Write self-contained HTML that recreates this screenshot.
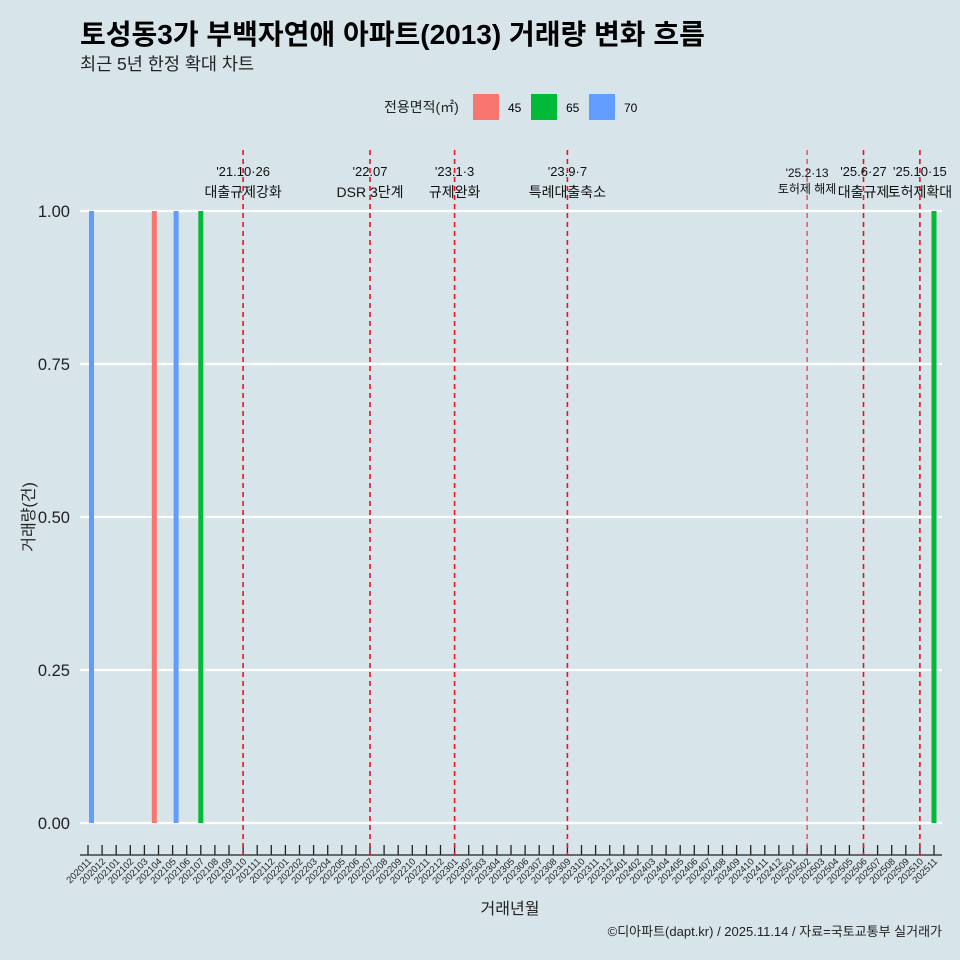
<!DOCTYPE html>
<html><head><meta charset="utf-8"><style>
body{margin:0;background:#d7e4ea;}
svg{display:block;font-family:"Liberation Sans","Noto Sans CJK KR",sans-serif;}
</style></head><body>
<svg id="chart" width="960" height="960">
<rect width="960" height="960" fill="#d7e4ea"/>
<text x="80" y="44" font-size="28" font-weight="bold" fill="#000">토성동3가 부백자연애 아파트(2013) 거래량 변화 흐름</text>
<text x="80" y="70" font-size="17.5" fill="#222">최근 5년 한정 확대 차트</text>
<g>
<text x="384" y="112" font-size="14" fill="#222">전용면적(㎡)</text>
<rect x="473" y="94" width="26" height="26" fill="#f8766d"/>
<text x="508" y="112" font-size="12">45</text>
<rect x="531" y="94" width="26" height="26" fill="#00ba38"/>
<text x="566" y="112" font-size="12">65</text>
<rect x="589" y="94" width="26" height="26" fill="#619cff"/>
<text x="624" y="112" font-size="12">70</text>
</g>
<g id="plot"></g>
<text x="510" y="914" font-size="16" text-anchor="middle" fill="#222">거래년월</text>
<text transform="translate(34,517) rotate(-90)" font-size="16" text-anchor="middle" fill="#222">거래량(건)</text>
<text x="942" y="936" font-size="13" text-anchor="end" fill="#222">©디아파트(dapt.kr) / 2025.11.14 / 자료=국토교통부 실거래가</text>
</svg>
<script>
const months = [];
for (let y = 2020, m = 11; months.length < 61; ) { months.push(y + String(m).padStart(2,'0')); m++; if (m > 12) { m = 1; y++; } }
const groups = ["45","65","70"];
const groupColors = {"45":"#f8766d","65":"#00ba38","70":"#619cff"};
const tradeMonths = ["202011","202104","202105","202107","202511"];
const tradeGroups = ["70","45","70","65","65"];
const tradeCounts = [1,1,1,1,1];
const yTicks = [0,0.25,0.5,0.75,1];
const yTickLabels = ["0.00","0.25","0.50","0.75","1.00"];
const eventMonths = ["202110","202207","202301","202309","202502","202506","202510"];
const eventDates = ["'21.10·26","'22.07","'23.1·3","'23.9·7","'25.2·13","'25.6·27","'25.10·15"];
const eventTexts = ["대출규제강화","DSR 3단계","규제완화","특례대출축소","토허제 해제","대출규제","토허제확대"];

const NS = "http://www.w3.org/2000/svg";
const plot = document.getElementById('plot');
function mk(tag, attrs, parent) { const e = document.createElementNS(NS, tag); for (const k in attrs) e.setAttribute(k, attrs[k]); (parent||plot).appendChild(e); return e; }
const x = i => 88 + i * 14.1;
const y = v => 823 - v * 612;
const dodge = {"45":-4.2,"65":0,"70":3.5};

yTicks.forEach((t, i) => {
  const g = mk('line', {x1:80, x2:942, y1:y(t), y2:y(t), stroke:'#fff', 'stroke-width':2.2});
  
  
  const l = mk('text', {x:70, y:y(t)+6, 'font-size':16.5, 'text-anchor':'end', fill:'#222'});
  l.textContent = yTickLabels[i];
  
  
});
mk('line', {x1:80, x2:942, y1:855, y2:855, stroke:'#222', 'stroke-width':1.3});
months.forEach((m, i) => {
  const t = mk('line', {x1:x(i), x2:x(i), y1:845, y2:855, stroke:'#222', 'stroke-width':1.3});
  
  
  const l = mk('text', {transform:`translate(${x(i)+4},862) rotate(-45)`, 'font-size':9.5, 'text-anchor':'end', fill:'#222'});
  l.textContent = m;
  
  
});
tradeMonths.forEach((m, k) => {
  const i = months.indexOf(m);
  const cx = x(i) + dodge[tradeGroups[k]];
  const b = mk('rect', {x:cx-2.5, y:y(tradeCounts[k]), width:5, height:y(0)-y(tradeCounts[k]), fill:groupColors[tradeGroups[k]]});
  
  
});
eventMonths.forEach((m, k) => {
  const ex = x(months.indexOf(m));
  const thin = m === "202502";
  const l = mk('line', {x1:ex, x2:ex, y1:150, y2:855, stroke:'#e8141c', 'stroke-width':thin?1:1.6, 'stroke-dasharray':'5,4'});
  
  
  const d = mk('text', {x:ex, y:thin?177:176, 'font-size':thin?12:13, 'text-anchor':'middle', fill:'#111'});
  d.textContent = eventDates[k];
  
  
  const t = mk('text', {x:ex, y:thin?193:197, 'font-size':thin?12:14, 'text-anchor':'middle', fill:'#111'});
  t.textContent = eventTexts[k];
  
  
});
</script>
</body></html>
